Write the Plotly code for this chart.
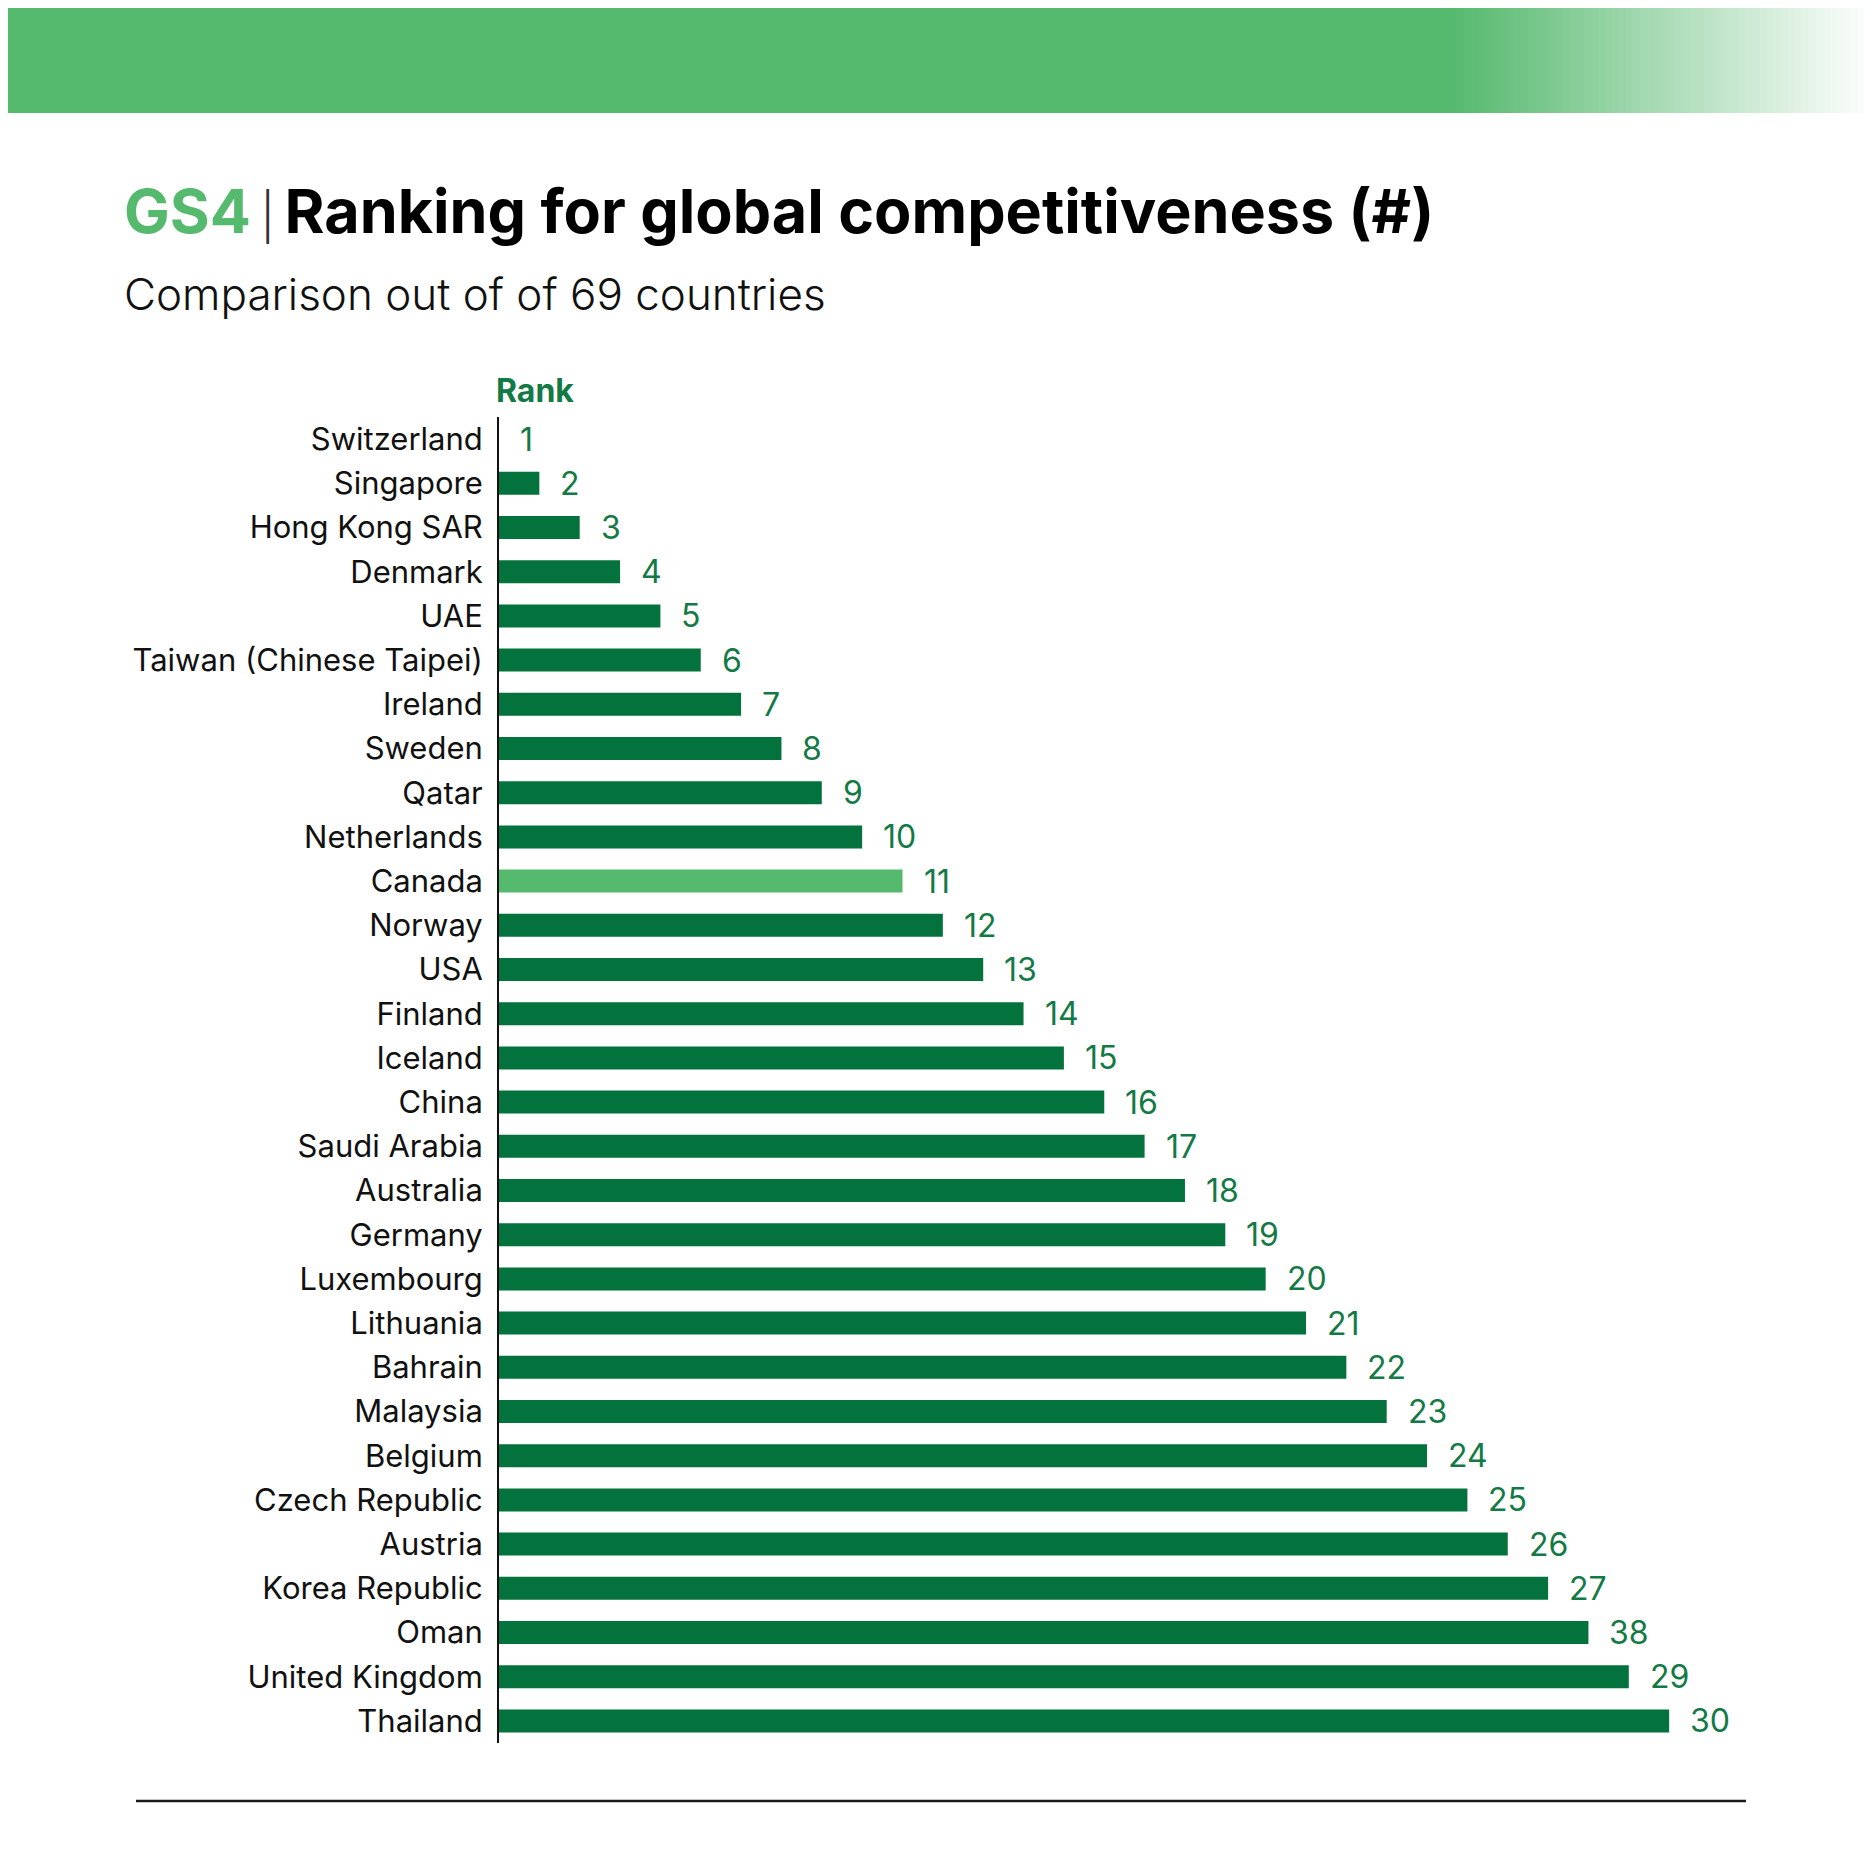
import plotly.graph_objects as go

# data
countries = ["Switzerland", "Singapore", "Hong Kong SAR", "Denmark", "UAE",
             "Taiwan (Chinese Taipei)", "Ireland", "Sweden", "Qatar", "Netherlands",
             "Canada", "Norway", "USA", "Finland", "Iceland", "China", "Saudi Arabia",
             "Australia", "Germany", "Luxembourg", "Lithuania", "Bahrain", "Malaysia",
             "Belgium", "Czech Republic", "Austria", "Korea Republic", "Oman",
             "United Kingdom", "Thailand"]
ranks = [1, 2, 3, 4, 5, 6, 7, 8, 9, 10, 11, 12, 13, 14, 15, 16, 17, 18, 19, 20,
         21, 22, 23, 24, 25, 26, 27, 28, 29, 30]
# labels as printed (the Oman label reads 38 in the source)
rank_labels = ["1", "2", "3", "4", "5", "6", "7", "8", "9", "10", "11", "12", "13",
               "14", "15", "16", "17", "18", "19", "20", "21", "22", "23", "24", "25",
               "26", "27", "38", "29", "30"]
highlight = "Canada"

# page body has an 8px margin, so the figure is drawn 8px in and 16px smaller
OFF = 8
W, H = 1872 - 2 * OFF, 1856 - 2 * OFF
ML, MR, MT, MB = 499 - OFF, 0, 417 - OFF, 1856 - 1743 - OFF
DARK = "#03723D"
LIGHT = "#55B96E"
LABEL = "#137A46"
FONT = "Inter"


def px(x, y):
    # pixel position on the page -> paper coords
    x, y = x - OFF, y - OFF
    return (x - ML) / (W - ML - MR), (H - MB - y) / (H - MT - MB)


colors = [LIGHT if c == highlight else DARK for c in countries]

fig = go.Figure()
fig.add_trace(go.Bar(x=ranks, y=countries, orientation="h", width=0.52,
                     marker=dict(color=colors, line_width=0), hoverinfo="x+y"))

annotations = []
for c, r, lab in zip(countries, ranks, rank_labels):
    annotations.append(dict(x=r, y=c, xref="x", yref="y", text=lab, showarrow=False,
                            xanchor="left", xshift=19,
                            font=dict(family=FONT, size=32, color=LABEL)))

x0, y0 = px(122, 211)
annotations.append(dict(
    x=x0, y=y0, xref="paper", yref="paper", xanchor="left", yanchor="middle", showarrow=False,
    text="<span style='color:%s'>GS4</span>\u2009<span style='font-weight:300;font-size:46px;color:#333'>|</span>\u2009Ranking for global competitiveness (#)" % LIGHT,
    font=dict(family=FONT, size=61, color="#000000", weight=700)))
x0, y0 = px(122, 294)
annotations.append(dict(
    x=x0, y=y0, xref="paper", yref="paper", xanchor="left", yanchor="middle", showarrow=False,
    text="Comparison out of of 69 countries",
    font=dict(family=FONT, size=44, color="#111111", weight=300)))
x0, y0 = px(494, 390)
annotations.append(dict(
    x=x0, y=y0, xref="paper", yref="paper", xanchor="left", yanchor="middle", showarrow=False,
    text="Rank", font=dict(family=FONT, size=32, color=LABEL, weight=700)))

# top banner, solid then fading to white
shapes = [dict(type="rect", xref="paper", yref="paper", x0=px(0, 0)[0], x1=px(1452, 0)[0],
               y0=px(0, 113)[1], y1=px(0, 0)[1], fillcolor=LIGHT, line_width=0, layer="below")]
steps = 60
g0, g1 = 1450, 1872
for i in range(steps):
    t = (i + 0.5) / steps
    r = int(0x55 + (255 - 0x55) * t)
    g = int(0xB9 + (255 - 0xB9) * t)
    b = int(0x6E + (255 - 0x6E) * t)
    xa = g0 + (g1 - g0) * i / steps
    xb = g0 + (g1 - g0) * (i + 1) / steps + 1
    shapes.append(dict(type="rect", xref="paper", yref="paper", x0=px(xa, 0)[0], x1=px(xb, 0)[0],
                       y0=px(0, 113)[1], y1=px(0, 0)[1], fillcolor="rgb(%d,%d,%d)" % (r, g, b),
                       line_width=0, layer="below"))
# bottom rule
shapes.append(dict(type="line", xref="paper", yref="paper", x0=px(136, 0)[0], x1=px(1746, 0)[0],
                   y0=px(0, 1801)[1], y1=px(0, 1801)[1], line=dict(color="#1a1a1a", width=2.5)))

fig.update_layout(
    width=W, height=H,
    margin=dict(l=ML, r=MR, t=MT, b=MB),
    paper_bgcolor="white", plot_bgcolor="white",
    showlegend=False,
    annotations=annotations, shapes=shapes,
    xaxis=dict(range=[1, 1 + (W - ML - MR) / 40.35], visible=False, fixedrange=True),
    yaxis=dict(type="category", range=[29.5, -0.5], showline=True, linecolor="#111111",
               linewidth=2, showgrid=False, zeroline=False, ticks="", ticklabelstandoff=8,
               tickfont=dict(family=FONT, size=31, color="#111111"), fixedrange=True),
)

fig.write_html("out.html")
